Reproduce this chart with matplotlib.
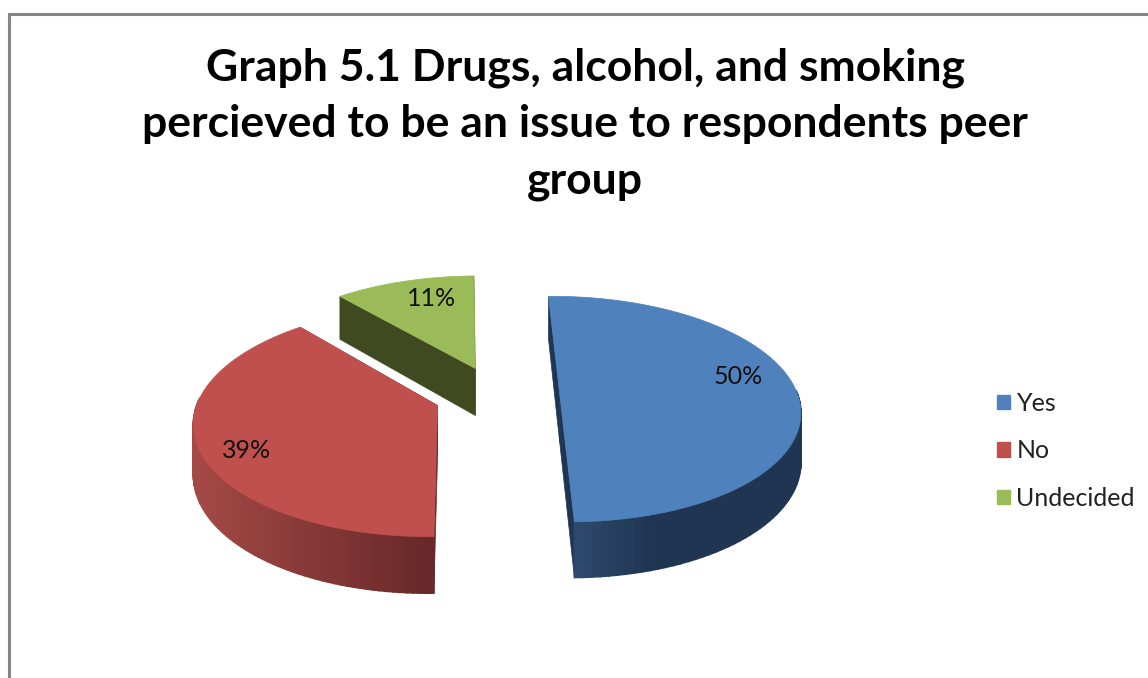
# -*- coding: utf-8 -*-
"""
Graph 5.1 - exploded 3D style pie chart, drawn with polygons in pixel coordinates
"""
import numpy as np
from matplotlib import pyplot as plt
from matplotlib.colors import to_rgb, to_hex
from matplotlib.patches import Patch, Polygon

categories = ['Yes', 'No', 'Undecided']
values = [50, 39, 11]
top_colors = ['#4f81bd', '#c0504d', '#9bbb59']
face_colors = ['#1f3552', '#6b2a29', '#3f4a20']
wall_left = ['#2f4b6e', '#a64a47', '#3f4a20']
wall_right = ['#1f3552', '#662828', '#3f4a20']
wall_span = [(573, 655), (190, 435), (340, 480)]
label_pos = [(738, 377), (247, 450), (432, 299)]
title = ('Graph 5.1 Drugs, alcohol, and smoking\n'
         'percieved to be an issue to respondents peer\n'
         'group')

# perspective set up, all in pixels
cx, cy = 497, 395
a, b = 238, 111
k = 0.13
depth = 48.5
explode = 0.264
start = -1.1  # clockwise from the top, degrees


def project(u, v, z=0.0):
    s = 1 / (1 + k * v)
    return cx + a * u * s, cy - b * v * s + depth * z * s


def mix(c1, c2, t):
    t = min(max(t, 0), 1)
    return to_hex([(1 - t) * p + t * q for p, q in zip(to_rgb(c1), to_rgb(c2))])


plt.rcParams['font.family'] = ['Lato', 'DejaVu Sans']
fig = plt.figure(figsize=(11.48, 6.78), dpi=100)
ax = fig.add_axes([0, 0, 1, 1])
ax.set_xlim(0, 1148)
ax.set_ylim(678, 0)
ax.axis('off')

# chart frame, cut off at the right and bottom
ax.plot([8.5, 8.5, 1148], [678, 13.5, 13.5], color='#868686', lw=2.2,
        solid_joinstyle='miter')

# work out the angles of the slices
edges = start + np.cumsum([0] + values) * 3.6
slices = []
for i in range(len(values)):
    mid = np.radians((edges[i] + edges[i + 1]) / 2)
    u0, v0 = explode * np.sin(mid), explode * np.cos(mid)
    th = np.radians(np.linspace(edges[i], edges[i + 1], 100))
    slices.append((u0, v0, u0 + np.sin(th), v0 + np.cos(th)))

# back slices first
for i in [2, 1, 0]:
    u0, v0, us, vs = slices[i]

    # flat cut faces
    for j in [0, -1]:
        quad = [project(u0, v0), project(us[j], vs[j]),
                project(us[j], vs[j], 1), project(u0, v0, 1)]
        ax.add_patch(Polygon(quad, closed=True, fc=face_colors[i],
                             ec=face_colors[i], lw=0.5))

    # outer wall, short strips for the gradient
    for j in range(len(us) - 1):
        if vs[j] - v0 > 0.05:
            continue
        quad = [project(us[j], vs[j]), project(us[j + 1], vs[j + 1]),
                project(us[j + 1], vs[j + 1], 1), project(us[j], vs[j], 1)]
        t = (quad[0][0] - wall_span[i][0]) / (wall_span[i][1] - wall_span[i][0])
        col = mix(wall_left[i], wall_right[i], t)
        ax.add_patch(Polygon(quad, closed=True, fc=col, ec=col, lw=1.2))

    # top surface
    top = [project(u0, v0)] + [project(p, q) for p, q in zip(us, vs)]
    ax.add_patch(Polygon(top, closed=True, fc=top_colors[i], ec=top_colors[i], lw=0.5))

for i in range(len(values)):
    ax.text(label_pos[i][0], label_pos[i][1], '%d%%' % values[i], fontsize=18,
            ha='center', va='center', color='#111111')

ax.text(585, 124, title, fontsize=32, fontweight='bold', ha='center', va='center',
        linespacing=1.5, color='black')

handles = [Patch(fc=c, ec=c) for c in top_colors]
ax.legend(handles, categories, loc='center left', bbox_to_anchor=(979, 451),
          bbox_transform=ax.transData, frameon=False, fontsize=18,
          handlelength=0.52, handleheight=0.52, handletextpad=0.28,
          labelspacing=0.98, labelcolor='#222222', borderpad=0, borderaxespad=0.7)

fig.savefig('out.png', dpi=100)
